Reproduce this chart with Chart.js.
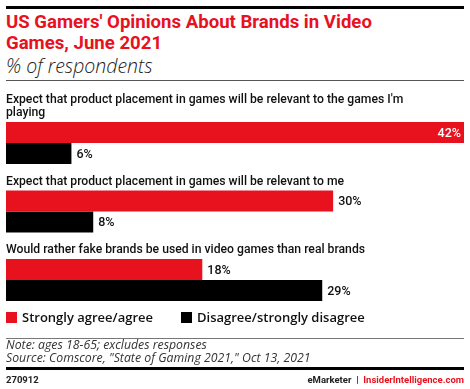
<!DOCTYPE html>
<html>
<head>
<meta charset="utf-8">
<script src="https://cdn.jsdelivr.net/npm/chart.js@4"></script>
<style>
  body { margin: 0; width: 470px; height: 389px; background: #fff; font-family: Roboto, "Liberation Sans", sans-serif; position: relative; overflow: hidden; }
  .abs { position: absolute; }
  #topline { left: 6px; top: 6px; width: 458px; height: 3px; background: #000; }
  #title { left: 6px; top: 12px; font-size: 18.6px; font-weight: 700; color: #e8111e; line-height: 21px; }
  #subtitle { left: 6px; top: 52px; font-family: "Open Sans", sans-serif; font-size: 19.5px; font-style: italic; font-weight: 300; color: #222; }
  #rule1 { left: 6px; top: 80px; width: 458px; height: 1px; background: #555; }
  #chartBox { left: 0; top: 82px; width: 470px; height: 254px; }
  #legend { left: 6px; top: 308px; font-family: "Open Sans", sans-serif; font-size: 13px; font-weight: 600; color: #111; }
  .key { display: inline-block; margin-right: 28px; }
  .sw { display: inline-block; width: 11px; height: 11px; margin-right: 5px; vertical-align: -1px; }
  #rule2 { left: 6px; top: 338px; width: 458px; height: 1px; background: #777; }
  #note { left: 6px; top: 339px; font-family: "Open Sans", sans-serif; font-size: 12.3px; font-style: italic; color: #333; line-height: 12.5px; }
  #bottomline { left: 6px; top: 367px; width: 458px; height: 3px; background: #000; }
  #code { left: 6px; top: 374px; font-size: 9.5px; font-weight: 700; color: #222; }
  #brand { right: 6px; top: 374px; font-size: 9.5px; font-weight: 700; color: #222; }
  #brand .red { color: #e8111e; }
</style>
</head>
<body>
<div class="abs" id="topline"></div>
<div class="abs" id="title">US Gamers' Opinions About Brands in Video<br>Games, June 2021</div>
<div class="abs" id="subtitle">% of respondents</div>
<div class="abs" id="rule1"></div>
<div class="abs" id="chartBox"><canvas id="myChart"></canvas></div>
<div class="abs" id="legend"></div>
<div class="abs" id="rule2"></div>
<div class="abs" id="note">Note: ages 18-65; excludes responses<br>Source: Comscore, "State of Gaming 2021," Oct 13, 2021</div>
<div class="abs" id="bottomline"></div>
<div class="abs" id="code">270912</div>
<div class="abs" id="brand">eMarketer &nbsp;|&nbsp; <span class="red">InsiderIntelligence.com</span></div>
<script>
// data
const categories = [
  ["Expect that product placement in games will be relevant to the games I'm", "playing"],
  ["Expect that product placement in games will be relevant to me"],
  ["Would rather fake brands be used in video games than real brands"]
];
const agreeValues = [42, 30, 18];
const disagreeValues = [6, 8, 29];
const seriesNames = ["Strongly agree/agree", "Disagree/strongly disagree"];
const seriesColors = ["#e8111e", "#000000"];

// legend in html
const legendEl = document.getElementById('legend');
seriesNames.forEach((name, i) => {
  const k = document.createElement('span');
  k.className = 'key';
  k.innerHTML = `<span class="sw" style="background:${seriesColors[i]}"></span>${name}`;
  legendEl.appendChild(k);
});

// labels above each group + value labels
const labelPlugin = {
  id: 'labels',
  afterDatasetsDraw(chart) {
    const ctx = chart.ctx;
    ctx.save();
    // category labels
    const first = chart.getDatasetMeta(0);
    ctx.font = '500 12.2px Roboto';
    ctx.fillStyle = '#111';
    ctx.textBaseline = 'alphabetic';
    ctx.textAlign = 'left';
    first.data.forEach((bar, i) => {
      const top = bar.y - bar.height / 2;
      const lines = categories[i];
      lines.forEach((ln, j) => {
        const y = top - 6 - (lines.length - 1 - j) * 13.5;
        ctx.fillText(ln, chart.chartArea.left, y);
      });
    });
    // values
    ctx.font = '500 12.5px Roboto';
    ctx.textBaseline = 'middle';
    chart.data.datasets.forEach((ds, di) => {
      const meta = chart.getDatasetMeta(di);
      meta.data.forEach((bar, i) => {
        const txt = ds.data[i] + '%';
        const w = ctx.measureText(txt).width;
        if (bar.x + w + 6 > chart.width - 2) {
          ctx.fillStyle = '#fff';
          ctx.textAlign = 'right';
          ctx.fillText(txt, bar.x - 3, bar.y + 1);
        } else {
          ctx.fillStyle = '#111';
          ctx.textAlign = 'left';
          ctx.fillText(txt, bar.x + 5, bar.y + 1);
        }
      });
    });
    ctx.restore();
  }
};

const ctx = document.getElementById('myChart').getContext('2d');
new Chart(ctx, {
  type: 'bar',
  data: {
    labels: categories.map(c => c.join(' ')),
    datasets: [{
      label: seriesNames[0],
      data: agreeValues,
      backgroundColor: seriesColors[0]
    }, {
      label: seriesNames[1],
      data: disagreeValues,
      backgroundColor: seriesColors[1]
    }]
  },
  options: {
    indexAxis: 'y',
    responsive: true,
    maintainAspectRatio: false,
    animation: false,
    layout: { padding: { left: 6, right: 6, top: 26.75, bottom: 21.75 } },
    datasets: { bar: { categoryPercentage: 0.613, barPercentage: 1.0, borderWidth: 0 } },
    scales: {
      x: { min: 0, max: 42, display: false },
      y: { display: false }
    },
    plugins: {
      legend: { display: false },
      tooltip: { enabled: false }
    }
  },
  plugins: [labelPlugin]
});
</script>
</body>
</html>
